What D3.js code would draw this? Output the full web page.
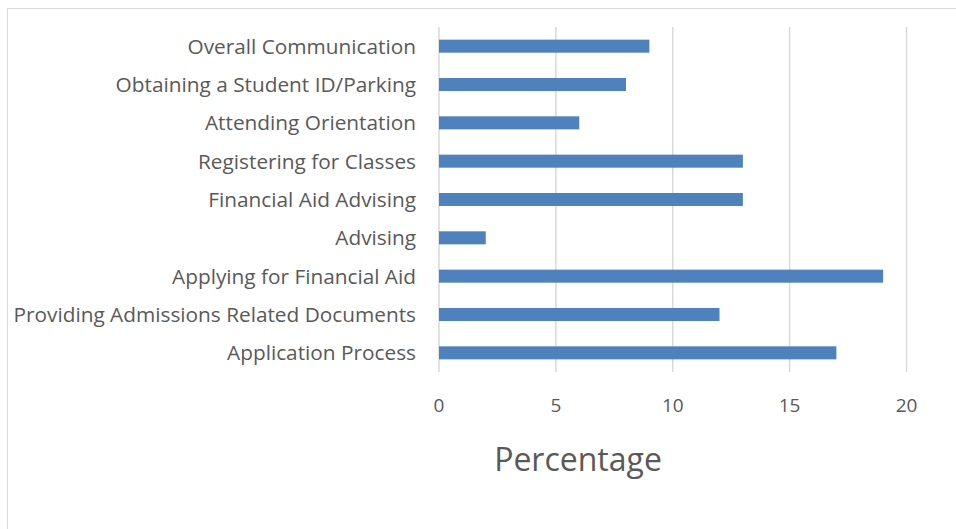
<!DOCTYPE html>
<html>
<head>
<meta charset="utf-8">
<script src="https://cdn.jsdelivr.net/npm/d3@7"></script>
<style>
  html, body { margin: 0; padding: 0; background: #fff; }
  svg text { font-family: "Open Sans", "Noto Sans", sans-serif; fill: #595959; }
</style>
</head>
<body>
<svg id="chart" width="956" height="529"></svg>
<script>
// Share of responses by onboarding step (percent)
const categories = [
  "Overall Communication",
  "Obtaining a Student ID/Parking",
  "Attending Orientation",
  "Registering for Classes",
  "Financial Aid Advising",
  "Advising",
  "Applying for Financial Aid",
  "Providing Admissions Related Documents",
  "Application Process"
];
const values = [9, 8, 6, 13, 13, 2, 19, 12, 17];
const xTicks = [0, 5, 10, 15, 20];
const axisTitle = "Percentage";

const svg = d3.select("#chart");
const margin = { left: 439, right: 49.5, top: 27, bottom: 157 };
const W = 956, H = 529;

// chart frame
svg.append("rect")
  .attr("x", 7.5).attr("y", 8.5)
  .attr("width", W - 7).attr("height", H)
  .attr("fill", "none").attr("stroke", "#d9d9d9").attr("stroke-width", 1);

const x = d3.scaleLinear().domain([0, 20]).range([margin.left, W - margin.right]);
const y = d3.scaleBand().domain(categories).range([margin.top, H - margin.bottom]).paddingInner(0.66).paddingOuter(0.33);

// vertical gridlines
svg.append("g").selectAll("line").data(xTicks).join("line")
  .attr("x1", d => x(d)).attr("x2", d => x(d))
  .attr("y1", margin.top).attr("y2", H - margin.bottom)
  .attr("stroke", "#d9d9d9").attr("stroke-width", 1.5);

// bars
svg.append("g").selectAll("rect").data(values).join("rect")
  .attr("x", x(0))
  .attr("y", (d, i) => y(categories[i]))
  .attr("width", d => x(d) - x(0))
  .attr("height", y.bandwidth())
  .attr("fill", "#4f81bd");

// x tick labels
svg.append("g").selectAll("text").data(xTicks).join("text")
  .attr("x", d => x(d)).attr("y", 405)
  .attr("text-anchor", "middle").attr("dominant-baseline", "central")
  .attr("font-size", 19)
  .text(d => d);

// category labels
svg.append("g").selectAll("text").data(categories).join("text")
  .attr("x", 416)
  .attr("y", d => y(d) + y.bandwidth() / 2 - 0.5)
  .attr("text-anchor", "end").attr("dominant-baseline", "central")
  .attr("font-size", 20.8)
  .text(d => d);

// axis title
svg.append("text")
  .attr("x", 578).attr("y", 458)
  .attr("text-anchor", "middle").attr("dominant-baseline", "central")
  .attr("font-size", 32)
  .text(axisTitle);
</script>
</body>
</html>
